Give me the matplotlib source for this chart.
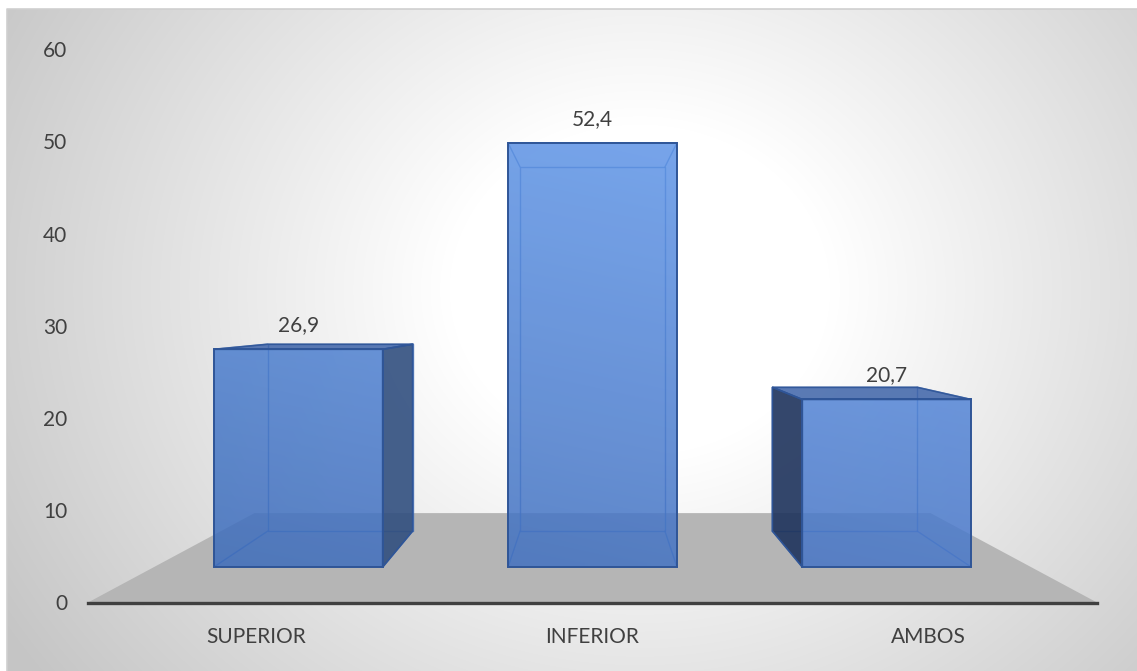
import numpy as np
import matplotlib
matplotlib.use("Agg")
import matplotlib.pyplot as plt
from matplotlib.patches import Polygon
from matplotlib.transforms import Affine2D

# ---- data ----
categories = ["SUPERIOR", "INFERIOR", "AMBOS"]
values = [26.9, 52.4, 20.7]
value_labels = ["26,9", "52,4", "20,7"]
y_ticks = [0, 10, 20, 30, 40, 50, 60]

plt.rcParams['font.family'] = ['Lato', 'DejaVu Sans']
TEXT = '#404040'
FS = 15

W, H, DPI = 1137, 671, 100
fig = plt.figure(figsize=(W / DPI, H / DPI), dpi=DPI)
fig.patch.set_facecolor('white')

# ---- chart-area background: soft radial gradient ----
bg = fig.add_axes([0, 0, 1, 1], zorder=0)
bg.set_xlim(0, W)
bg.set_ylim(H, 0)
bg.axis('off')
x0, y0 = 7, 9
yy, xx = np.mgrid[y0:H, x0:W] + 0.5
dist = np.hypot(xx - 640, (yy - 290) * 1.15)
g = np.clip(1 - (dist - 190) / 560, 0, 1)
shade = (197 + (255 - 197) * g) / 255
bg.imshow(np.dstack([shade] * 3), extent=(x0, W, H, y0), origin='upper',
          interpolation='bilinear', aspect='auto')
bg.plot([x0, x0, W], [H, y0, y0], color='#cfcfcf', lw=1.2)

# ---- plot axes (front plane of the floor) ----
ax = fig.add_axes([88 / W, (H - 602.5) / H, (1097 - 88) / W, (602.5 - 49) / H], zorder=1)
ax.set_xlim(-0.5, 2.5)
ax.set_ylim(0, 60)
ax.patch.set_alpha(0)
for s in ['top', 'right', 'left']:
    ax.spines[s].set_visible(False)
ax.spines['bottom'].set_color('#404040')
ax.spines['bottom'].set_linewidth(2.4)
ax.spines['bottom'].set_zorder(3)
ax.set_yticks(y_ticks)
ax.set_yticklabels([str(t) for t in y_ticks])
ax.set_xticks(range(len(categories)))
ax.set_xticklabels(categories)
ax.tick_params(axis='y', length=0, pad=15, labelsize=FS, labelcolor=TEXT)
ax.tick_params(axis='x', length=0, pad=17.5, labelsize=FS, labelcolor=TEXT)

# ---- perspective: depth planes scaled toward a vanishing point ----
VX, VY = 1.0, 31.36


def plane(kx, ky):
    return Affine2D().translate(-VX, -VY).scale(kx, ky).translate(VX, VY)


front = plane(0.875, 0.8775)
back = plane(0.75, 0.753)
floor_back = plane(0.67, 0.691)

# floor
fl = [(-0.5, 0), (2.5, 0)]
floor_pts = np.vstack([fl, floor_back.transform(fl[::-1])])
ax.add_patch(Polygon(floor_pts, closed=True, facecolor='#b5b5b5', edgecolor='none', zorder=1))

# ---- bars ----
bar_w = 0.574
ALPHA = 0.85
BG_L = 240.0
edge_col = '#2f5597'
hidden_col = '#4270ba'

sx = (1097 - 88) / 3.0      # pixels per x unit
sy = (602.5 - 49) / 60.0    # pixels per y unit


def front_face_image(Fpts):
    xl, xr = Fpts[0][0], Fpts[1][0]
    yb, yt = Fpts[0][1], Fpts[2][1]
    ny, nx = 60, 40
    ys = np.linspace(yt, yb, ny)[:, None]
    xs = np.linspace(xl, xr, nx)[None, :]
    ypx = 602.5 - ys * sy
    xpx = 88 + (xs + 0.5) * sx
    ty = np.clip((567 - ypx) / 425, 0, 1)
    tx = np.clip((xpx - 213) / (971 - 213), 0, 1)
    r = 88 + 22 * ty + 10 * tx
    gch = 128 + 28 * ty + 10 * tx
    b = 195 + 30 * ty + 12 * tx
    comp = np.dstack([r + 0 * tx, gch + 0 * tx, b + 0 * tx])
    c = (comp - (1 - ALPHA) * BG_L) / ALPHA
    c = np.clip(c / 255.0, 0, 1)
    rgba = np.dstack([c, np.full(c.shape[:2], ALPHA)])
    return rgba, (xl, xr, yb, yt)


for i, (v, lab) in enumerate(zip(values, value_labels)):
    L, R = i - bar_w / 2, i + bar_w / 2
    corners = [(L, 0), (R, 0), (R, v), (L, v)]
    F = front.transform(corners)
    B = back.transform(corners)

    # far edges, seen through the translucent bar
    hid_kw = dict(color=hidden_col, lw=1.0, alpha=0.8, zorder=2, solid_capstyle='round')
    ax.plot(*np.vstack([B, B[:1]]).T, **hid_kw)
    for k in range(4):
        ax.plot([F[k][0], B[k][0]], [F[k][1], B[k][1]], **hid_kw)

    # side faces
    if F[1][0] < B[1][0]:
        side = [F[1], B[1], B[2], F[2]]
        ax.add_patch(Polygon(side, closed=True, facecolor='#314f7f', alpha=0.9,
                             edgecolor='none', zorder=2.5))
        ax.add_patch(Polygon(side, closed=True, facecolor='none', edgecolor=edge_col,
                             lw=1.2, zorder=3.5))
    if F[0][0] > B[0][0]:
        side = [F[0], B[0], B[3], F[3]]
        ax.add_patch(Polygon(side, closed=True, facecolor='#1e335c', alpha=0.9,
                             edgecolor='none', zorder=2.5))
        ax.add_patch(Polygon(side, closed=True, facecolor='none', edgecolor=edge_col,
                             lw=1.2, zorder=3.5))

    # top face when seen from above
    if B[3][1] > F[3][1]:
        top = [F[3], F[2], B[2], B[3]]
        ax.add_patch(Polygon(top, closed=True, facecolor='#3d63a8', alpha=0.85,
                             edgecolor=edge_col, lw=1.2, zorder=3.2))

    # translucent front face with soft lighting
    rgba, ext = front_face_image(F)
    ax.imshow(rgba, extent=ext, origin='upper', aspect='auto',
              interpolation='bilinear', zorder=3)
    ax.add_patch(Polygon(F, closed=True, facecolor='none', edgecolor=edge_col,
                         lw=1.4, zorder=3.6))

    # value label above the front face
    top_c = front.transform([(i, v)])[0]
    ax.annotate(lab, xy=top_c, xytext=(0, 24), textcoords='offset pixels',
                ha='center', va='center', fontsize=FS, color=TEXT, zorder=5)

ax.set_xlim(-0.5, 2.5)
ax.set_ylim(0, 60)

fig.savefig('out.png', dpi=DPI)
